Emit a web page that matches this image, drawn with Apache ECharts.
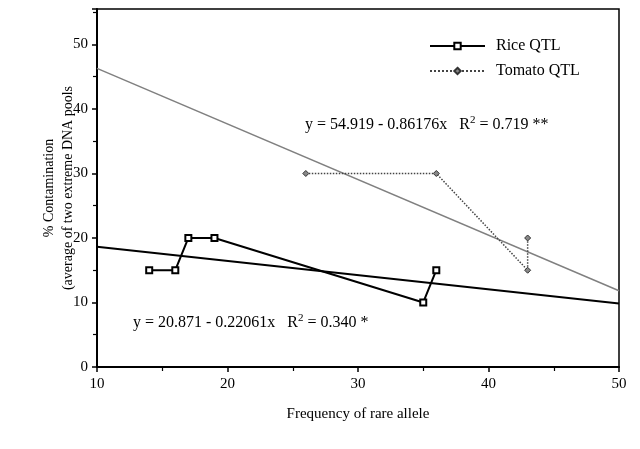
<!DOCTYPE html>
<html>
<head>
<meta charset="utf-8">
<script src="https://cdn.jsdelivr.net/npm/echarts@6/dist/echarts.min.js"></script>
<style>
  html, body { margin: 0; padding: 0; background: #fff; }
  #chart { width: 640px; height: 449px; }
</style>
</head>
<body>
<div id="chart"></div>
<script>
// values
const riceX = [14, 16, 17, 19, 35, 36];
const riceY = [15, 15, 20, 20, 10, 15];
const tomatoX = [26, 36, 43, 43];
const tomatoY = [30, 30, 15, 20];

// regression lines, end points at x = 10 and x = 50
const fitX = [10, 50];
const riceFit = [18.66, 9.84];
const tomatoFit = [46.30, 11.83];

const riceEq = 'y = 20.871 - 0.22061x   R{sup|2} = 0.340 *';
const tomatoEq = 'y = 54.919 - 0.86176x   R{sup|2} = 0.719 **';

const font = '"Liberation Serif", "DejaVu Serif", serif';

const pairs = (xs, ys) => xs.map((x, i) => [x, ys[i]]);

const chart = echarts.init(document.getElementById('chart'));

chart.setOption({
    animation: false,
    backgroundColor: '#fff',
    textStyle: { fontFamily: font, color: '#000' },
    grid: {
        left: 97, right: 21, top: 9, bottom: 82,
        show: true, borderColor: '#000', borderWidth: 1.5
    },
    legend: {
        data: ['Rice QTL', 'Tomato QTL'],
        orient: 'vertical',
        left: 424, top: 33,
        itemWidth: 55, itemHeight: 8, itemGap: 9,
        textStyle: { fontFamily: font, fontSize: 16, color: '#000', padding: [0, 0, 0, 6] }
    },
    xAxis: {
        type: 'value', min: 10, max: 50, interval: 10,
        name: 'Frequency of rare allele',
        nameLocation: 'middle', nameGap: 40,
        nameTextStyle: { fontFamily: font, fontSize: 15, color: '#000' },
        axisLine: { onZero: false, lineStyle: { color: '#000', width: 2 } },
        axisTick: { length: 5, lineStyle: { color: '#000', width: 1.5 } },
        minorTick: { show: true, splitNumber: 2, length: 4, lineStyle: { color: '#000', width: 1.2 } },
        axisLabel: { fontFamily: font, fontSize: 15, color: '#000', margin: 10 },
        splitLine: { show: false }
    },
    yAxis: {
        type: 'value', min: 0, max: 55.5, interval: 10,
        name: '% Contamination\n(average of two extreme DNA pools',
        nameLocation: 'middle', nameGap: 19, nameRotate: 90,
        nameMoveOverlap: false,
        nameTextStyle: { fontFamily: font, fontSize: 14, color: '#000', lineHeight: 19 },
        axisLine: { onZero: false, lineStyle: { color: '#000', width: 2 } },
        axisTick: { length: 5, lineStyle: { color: '#000', width: 1.5 } },
        minorTick: { show: true, splitNumber: 2, length: 4, lineStyle: { color: '#000', width: 1.2 } },
        axisLabel: {
            fontFamily: font, fontSize: 15, color: '#000', margin: 9,
            formatter: v => (v % 10 === 0 ? String(v) : '')
        },
        splitLine: { show: false }
    },
    series: [
        {
            name: 'Tomato fit', type: 'line', data: pairs(fitX, tomatoFit),
            symbol: 'none', silent: true,
            lineStyle: { color: '#808080', width: 1.5 }
        },
        {
            name: 'Rice fit', type: 'line', data: pairs(fitX, riceFit),
            symbol: 'none', silent: true,
            lineStyle: { color: '#000', width: 2 }
        },
        {
            name: 'Tomato QTL', type: 'line', data: pairs(tomatoX, tomatoY),
            symbol: 'diamond', symbolSize: 6,
            lineStyle: { color: '#444', width: 1.5, type: 'dotted' },
            itemStyle: { color: '#888', borderColor: '#333', borderWidth: 1 }
        },
        {
            name: 'Rice QTL', type: 'line', data: pairs(riceX, riceY),
            symbol: 'rect', symbolSize: 6,
            lineStyle: { color: '#000', width: 2 },
            itemStyle: { color: '#fff', borderColor: '#000', borderWidth: 2 }
        }
    ],
    graphic: [
        {
            type: 'text', left: 305, top: 115,
            style: {
                text: tomatoEq, fontFamily: font, fontSize: 16, fill: '#000',
                rich: { sup: { fontSize: 11, verticalAlign: 'top', padding: [0, 0, 8, 0], fontFamily: font } }
            }
        },
        {
            type: 'text', left: 133, top: 313,
            style: {
                text: riceEq, fontFamily: font, fontSize: 16, fill: '#000',
                rich: { sup: { fontSize: 11, verticalAlign: 'top', padding: [0, 0, 8, 0], fontFamily: font } }
            }
        }
    ]
});
</script>
</body>
</html>
